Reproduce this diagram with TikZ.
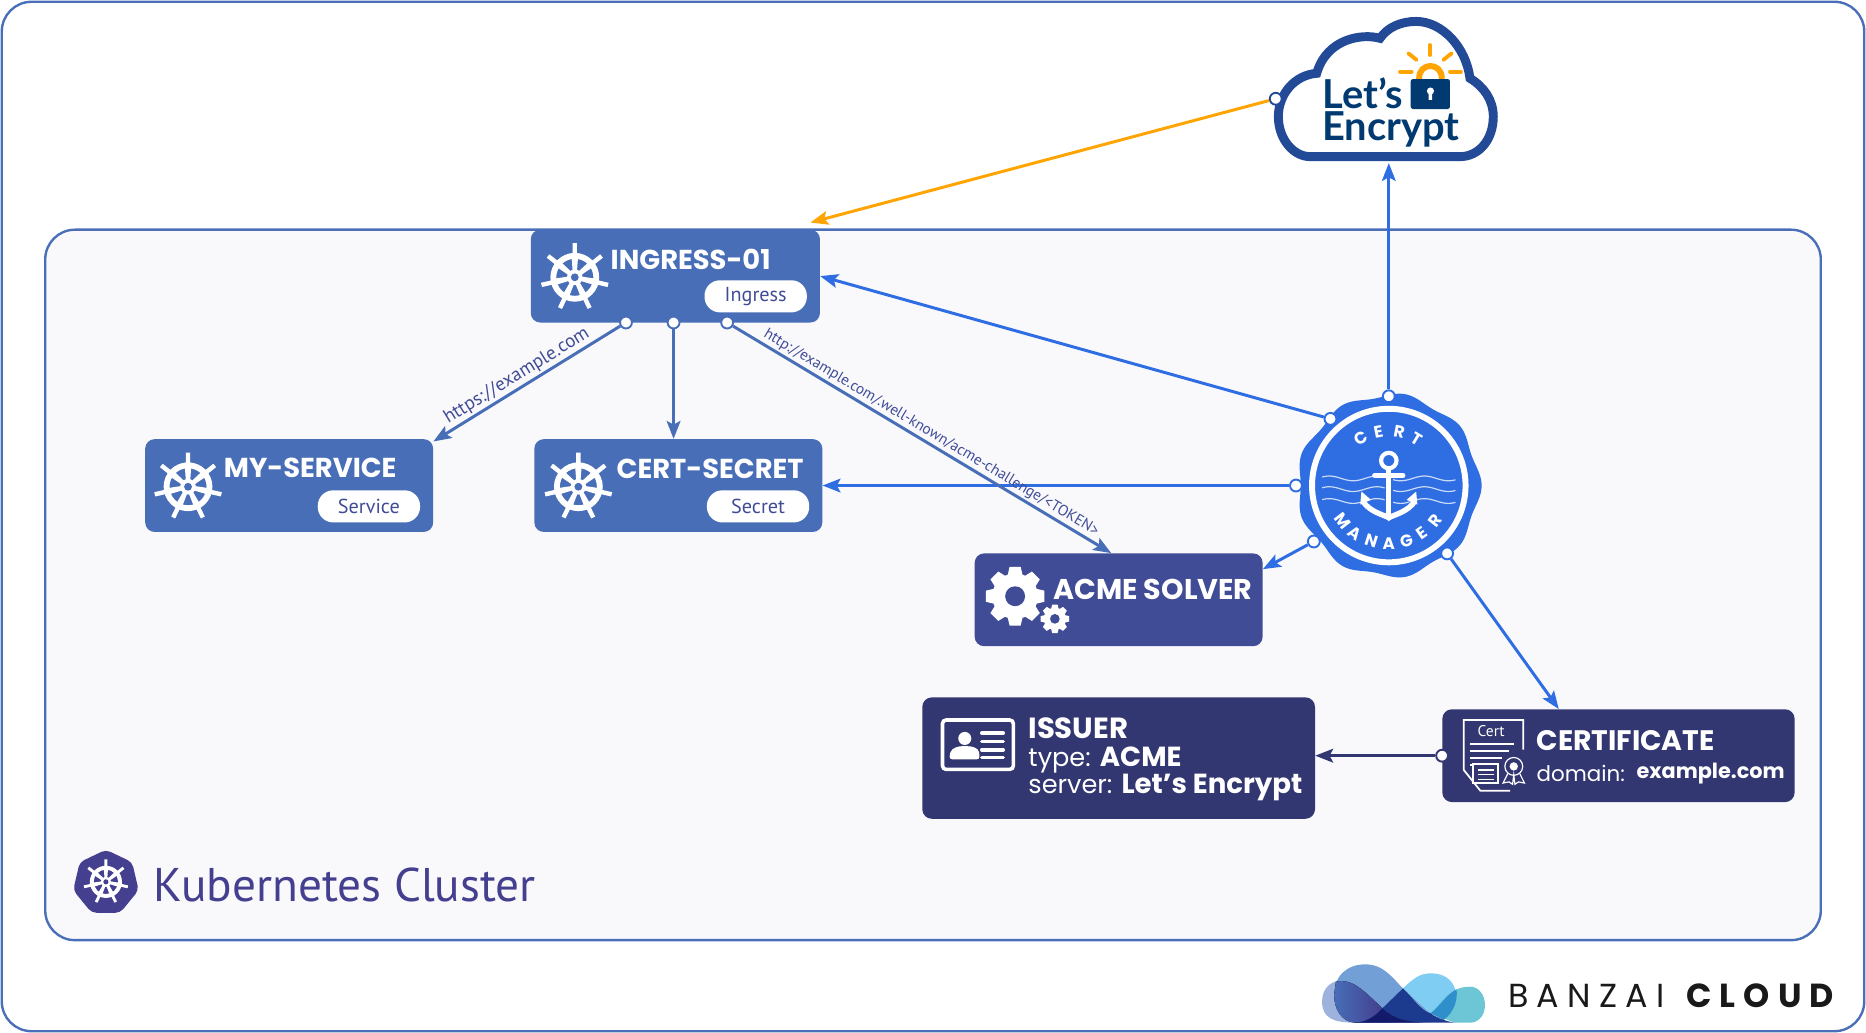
\documentclass[tikz,border=0pt]{standalone}
\usepackage{fontspec}
\setmainfont{PT Sans}
\newfontfamily\headfont{Poppins}
\newfontfamily\logofont{Lato}
\usetikzlibrary{arrows.meta}

\definecolor{frameblue}{HTML}{4A6FB8}
\definecolor{clusterbg}{HTML}{F9F9FC}
\definecolor{k8sblue}{HTML}{486EB7}
\definecolor{acmeblue}{HTML}{414C97}
\definecolor{navyblue}{HTML}{323671}
\definecolor{certblue}{HTML}{2F6DE3}
\definecolor{leorange}{HTML}{FFA400}
\definecolor{leblue}{HTML}{234A97}
\definecolor{ledark}{HTML}{003A70}
\definecolor{k8slogo}{HTML}{443F8F}
\definecolor{wavelight}{HTML}{9DB3DE}
\definecolor{wavemid}{HTML}{729FD6}
\definecolor{wavesky}{HTML}{7FCDF2}
\definecolor{waveteal}{HTML}{6CC6D6}
\definecolor{waveover}{HTML}{2F8FCB}
\definecolor{wavedeep}{HTML}{1C3A8E}
\definecolor{wavedark}{HTML}{141A6A}

\tikzset{
  wheel/.pic={
    \fill[white,even odd rule] (0,0) circle (1) circle (.76);
    \foreach \a in {0,51.43,102.86,154.29,205.71,257.14,308.57}
      \fill[white,rotate=\a,rounded corners=.05] (-.07,0) -- (-.13,-.8) -- (-.09,-1.02) -- (-.09,-1.4) -- (.09,-1.4) -- (.09,-1.02) -- (.13,-.8) -- (.07,0) -- cycle;
    \fill[white] (0,0) circle (.32);
    \fill[#1] (0,0) circle (.16);
  },
  gear/.pic={
    \fill[white] (0,0) circle (.78);
    \foreach \a in {0,45,...,315}
      \fill[white,rotate=\a] (-.26,-.7) -- (-.19,-1) -- (.19,-1) -- (.26,-.7) -- cycle;
    \fill[#1] (0,0) circle (.34);
  }
}

\begin{document}
\begin{tikzpicture}[x=1pt,y=-1pt]

  % Definitions
  \tikzstyle{frame} = [rectangle, rounded corners=25pt, draw=frameblue, line width=2pt]
  \tikzstyle{box} = [rectangle, rounded corners=8pt, minimum width=242pt, minimum height=78pt, inner sep=0pt]
  \tikzstyle{kubebox} = [box, fill=k8sblue]
  \tikzstyle{title} = [font=\headfont\bfseries\fontsize{23}{26}\selectfont, text=white, anchor=west, inner sep=0pt]
  \tikzstyle{info} = [font=\headfont\fontsize{21.5}{24}\selectfont, text=white, anchor=west, inner sep=0pt]
  \tikzstyle{kind} = [rectangle, rounded corners=13pt, fill=white, minimum width=86pt, minimum height=27pt, inner sep=0pt, text=acmeblue, font=\fontsize{17}{20}\selectfont]
  \tikzstyle{port} = [circle, fill=white, draw=certblue, line width=1.6pt, minimum size=10pt, inner sep=0pt]
  \tikzstyle{arrow} = [line width=2.5pt,-{Stealth[length=15pt,width=11.5pt,inset=3pt]}]
  \tikzstyle{url} = [text=acmeblue, inner sep=1.5pt, anchor=south]
  \tikzstyle{sealtext} = [font=\headfont\bfseries\fontsize{14}{16}\selectfont, text=white, inner sep=0pt]

  \useasboundingbox (0,0) rectangle (1568,868);
  \fill[white] (0,0) rectangle (1568,868);

  \node (outer) [frame, fill=white, minimum width=1565pt, minimum height=865pt] at (784,434) {};
  \node (cluster) [frame, fill=clusterbg, minimum width=1492pt, minimum height=597pt] at (784,491.5) {};

  % Boxes
  \node (ingress) [kubebox, minimum width=243pt] at (567.5,232) {};
  \node (my_service) [kubebox] at (243,408) {};
  \node (cert_secret) [kubebox] at (570,408) {};
  \node (acme) [box, fill=acmeblue] at (940,504) {};
  \node (issuer) [box, fill=navyblue, minimum width=330pt, minimum height=102pt] at (940,637) {};
  \node (certificate) [box, fill=navyblue, minimum width=296pt] at (1360,635) {};

  \node (ingress_title) [title] at (513,218) {INGRESS-01};
  \node (service_title) [title] at (188,393) {MY-SERVICE};
  \node (secret_title) [title] at (518,394) {CERT-SECRET};
  \node (acme_title) [title, font=\headfont\bfseries\fontsize{24}{26}\selectfont] at (885,495) {ACME SOLVER};
  \node (issuer_title) [title, font=\headfont\bfseries\fontsize{24.5}{26}\selectfont] at (864,612) {ISSUER};
  \node (issuer_type) [info] at (864,639) {type: {\bfseries\fontsize{23.2}{24}\selectfont ACME}};
  \node (issuer_server) [info] at (864,662) {server: {\bfseries\fontsize{23.2}{24}\selectfont Let’s Encrypt}};
  \node (cert_title) [title, font=\headfont\bfseries\fontsize{23.7}{26}\selectfont] at (1291,622) {CERTIFICATE};
  \node (cert_domain) [info, font=\headfont\fontsize{18}{20}\selectfont] at (1291,650) {domain:};
  \node (cert_name) [info, font=\headfont\bfseries\fontsize{17.5}{20}\selectfont] at (1375,650) {example.com};

  \node (ingress_kind) [kind] at (635,249) {Ingress};
  \node (service_kind) [kind] at (310,425.5) {Service};
  \node (secret_kind) [kind] at (637,425.5) {Secret};

  \pic[scale=20.5] at (483,233) {wheel=k8sblue};
  \pic[scale=20.5] at (158,409) {wheel=k8sblue};
  \pic[scale=20.5] at (486,409) {wheel=k8sblue};
  \pic[scale=24.6] at (853,501) {gear=acmeblue};
  \pic[scale=12] at (886.4,520) {gear=acmeblue};

  % Issuer card
  \draw[white, line width=3pt, rounded corners=3pt] (792,605) rectangle (851.5,646.5);
  \fill[white] (810.7,620.5) circle (5.5);
  \fill[white, rounded corners=2pt] (798,638) -- (798,634) .. controls (800,628) and (806,627) .. (810.7,627) .. controls (816,627) and (822,628) .. (823,634) -- (823,638) -- cycle;
  \foreach \y in {616,623,630,636.5}
    \draw[white, line width=3pt, line cap=round] (825,\y) -- (843,\y);

  % Certificate paper
  \draw[white, line width=1.5pt] (1280,630) -- (1280,605) -- (1230,605) -- (1230,647) -- (1244,664.5) -- (1269,664.5);
  \node (paper_text) [text=white, inner sep=0pt, font=\fontsize{13}{14}\selectfont] at (1253,614) {Cert};
  \foreach \y/\w in {625/1272,631/1268,637/1262,643/1256}
    \draw[white, line width=1.4pt] (1235,\y) -- (\w,\y);
  \draw[white, line width=1.4pt, fill=navyblue] (1238,642) rectangle (1259,658);
  \foreach \y in {647,651,655}
    \draw[white, line width=1pt] (1242,\y) -- (1255,\y);
  \draw[white, line width=1pt] (1272,644) circle (7.5);
  \fill[white] (1272,644) circle (3.5);
  \draw[white, line width=1pt] (1267,650) -- (1263,658) -- (1268,657) -- (1271,659) -- (1272,651) -- (1273,659) -- (1276,657) -- (1281,658) -- (1277,650);

  % Kubernetes logo
  \fill[k8slogo, rounded corners=4pt] (89,714) -- (111,724.5) -- (116.5,748) -- (101,767) -- (77,767) -- (61.5,748) -- (67,724.5) -- cycle;
  \pic[scale=13.5] at (89,741) {wheel=k8slogo};
  \node (cluster_name) [anchor=west, inner sep=0pt, text=k8slogo, font=\fontsize{39.7}{44}\selectfont] at (129,744) {Kubernetes Cluster};

  % Let's Encrypt cloud
  \draw[leblue, fill=white, line width=7.5pt] (1100.8,131.6) -- (1226.8,131.6) .. controls (1243,131.6) and (1254.8,117) .. (1254.8,98) .. controls (1254.8,84) and (1247,73) .. (1235.2,65.8) .. controls (1232,40) and (1212,18) .. (1190,18) .. controls (1177,18) and (1166,23) .. (1159.6,32.2) .. controls (1145,28) and (1115,32) .. (1106.4,61.6) .. controls (1088,63) and (1074.2,79) .. (1074.2,98) .. controls (1074.2,117) and (1087,131.6) .. (1100.8,131.6) -- cycle;
  \draw[leorange, line width=5pt] (1192.5,68) -- (1192.5,65.8) .. controls (1192.5,52) and (1211.5,52) .. (1211.5,65.8) -- (1211.5,68);
  \fill[ledark, rounded corners=2pt] (1185.4,66.4) rectangle (1218.4,91.6);
  \fill[white] (1202,76.5) circle (3) (1200.5,77) -- (1203.5,77) -- (1203.5,84) -- (1200.5,84) -- cycle;
  \foreach \ax/\ay/\bx/\by in {1201.6/37.8/1201.6/46.2,1183.4/44.8/1190.4/50.4,1219.8/44.8/1212.8/50.4,1176.4/60.2/1186.2/60.2,1218.4/60.2/1227.6/60.2}
    \draw[leorange, line width=3.2pt, line cap=round] (\ax,\ay) -- (\bx,\by);
  \node (le_top) [anchor=base west, inner sep=0pt, text=ledark, font=\logofont\bfseries\fontsize{33.5}{36}\selectfont] at (1111,91) {Let’s};
  \node (le_bottom) [anchor=base west, inner sep=0pt, text=ledark, font=\logofont\bfseries\fontsize{33.5}{36}\selectfont] at (1111,118) {Encrypt};

  % Cert manager seal
  \begin{scope}[shift={(1167,408)}]
    \fill[certblue] plot[domain=0:360, samples=180, smooth] (\x:{76+2*cos(9*\x)});
    \draw[white, line width=5pt] (0,0) circle (64.5);
    \foreach \y/\l/\r in {-6/-56/56, 3/-56/56, 13/-56/56}
      \draw[white, opacity=.75, line width=1pt] plot[domain=\l:\r, samples=50, smooth] (\x,{\y+2*sin(\x*9)});
    \draw[certblue, line width=7pt] (0,-14) -- (0,26) (-22,14) .. controls (-16,22) and (-6,24) .. (0,27) .. controls (6,24) and (16,22) .. (22,14);
    \draw[white, line width=3.5pt] (0,-21) circle (6.5);
    \draw[white, line width=4.5pt] (0,-14) -- (0,26);
    \draw[white, line width=4pt, line cap=round] (-12,-8.5) -- (12,-8.5);
    \draw[white, line width=4.5pt] (-22,13) .. controls (-16,22) and (-6,24) .. (0,27) .. controls (6,24) and (16,22) .. (22,13);
    \fill[white] (-24,16) -- (-23,5) -- (-15,12) -- cycle (24,16) -- (23,5) -- (15,12) -- cycle (-4,26) -- (4,26) -- (0,30) -- cycle;
    \foreach \c/\a in {C/-31,E/-11,R/11,T/31}
      \node (seal_top_\c) [sealtext, rotate=-\a] at (270+\a:46) {\c};
    \foreach \c/\n/\a in {M/1/-52.5,A/2/-35,N/3/-17.5,A/4/0,G/5/17.5,E/6/35,R/7/52.5}
      \node (seal_bottom_\n) [sealtext, rotate=\a] at (90-\a:49) {\c};
  \end{scope}

  % Ports
  \node (le_port) [port, draw=leblue] at (1072,83) {};
  \node (ingress_port_a) [port, draw=k8sblue] at (526,271) {};
  \node (ingress_port_b) [port, draw=k8sblue] at (566,271) {};
  \node (ingress_port_c) [port, draw=k8sblue] at (611,271) {};
  \node (cert_port_top) [port] at (1167,333) {};
  \node (cert_port_ingress) [port] at (1118,352) {};
  \node (cert_port_secret) [port] at (1089,408) {};
  \node (cert_port_acme) [port] at (1104,455) {};
  \node (cert_port_cert) [port] at (1216,465) {};
  \node (issuer_port) [port, draw=navyblue] at (certificate.west) {};

  \coordinate (ingress_in) at (681,187);
  \coordinate (cloud_in) at (1167,137);

  % Connectors
  \draw [arrow, leorange] (le_port) -- (ingress_in);
  \draw [arrow, certblue] (cert_port_top) -- (cloud_in);
  \draw [arrow, certblue] (cert_port_ingress) -- (ingress.east);
  \draw [arrow, certblue] (cert_port_secret) -- (cert_secret.east);
  \draw [arrow, certblue] (cert_port_acme) -- (acme.12);
  \draw [arrow, certblue] (cert_port_cert) -- (certificate.142);
  \draw [arrow, navyblue] (issuer_port) -- (issuer.east |- issuer_port);
  \draw [arrow, k8sblue] (ingress_port_a) -- node[url, sloped, pos=.52, font=\fontsize{16}{18}\selectfont] {https://example.com} (my_service.17);
  \draw [arrow, k8sblue] (ingress_port_b) -- (ingress_port_b |- cert_secret.north);
  \draw [arrow, k8sblue] (ingress_port_c) -- node[url, sloped, pos=.51, font=\fontsize{12.8}{15}\selectfont] {http://example.com/.well-known/acme-challenge/<TOKEN>} (acme.99);

  % Banzai Cloud logo
  \begin{scope}[shift={(1100.8,802.5)}, x=.2894pt, y=-.28pt]
    \fill[wavelight] (130,203) .. controls (70,203) and (35,190) .. (35,140) .. controls (35,100) and (60,75) .. (100,75) -- (210,160) -- (230,203) -- cycle;
    \fill[wavemid] (70,120) .. controls (70,60) and (110,28) .. (160,28) .. controls (215,28) and (240,70) .. (270,100) -- (350,175) -- (230,203) -- (130,203) .. controls (90,200) and (70,160) .. (70,120) -- cycle;
    \fill[left color=k8sblue, right color=k8slogo] (75,80) .. controls (120,70) and (150,100) .. (210,160) .. controls (190,185) and (160,203) .. (130,203) .. controls (90,200) and (70,160) .. (70,120) -- cycle;
    \fill[wavesky] (270,100) .. controls (300,70) and (320,55) .. (350,55) .. controls (400,55) and (425,85) .. (425,130) -- (350,175) -- cycle;
    \fill[waveteal] (350,175) .. controls (380,150) and (400,95) .. (465,95) .. controls (490,95) and (508,120) .. (508,150) .. controls (508,180) and (490,203) .. (465,203) -- (420,203) -- cycle;
    \fill[waveover] (350,175) .. controls (380,150) and (395,120) .. (425,103) .. controls (430,130) and (420,170) .. (388,195) -- cycle;
    \fill[wavedeep] (270,100) .. controls (300,130) and (320,165) .. (350,175) .. controls (370,190) and (400,200) .. (420,203) -- (130,203) .. controls (160,203) and (190,185) .. (210,160) .. controls (230,140) and (250,120) .. (270,100) -- cycle;
    \fill[wavedark] (130,203) .. controls (160,203) and (190,185) .. (210,160) .. controls (240,190) and (280,203) .. (350,203) -- cycle;
  \end{scope}
  \node (banzai_word) [anchor=base west, inner sep=0pt, font=\headfont\fontsize{28}{30}\addfontfeature{LetterSpace=25}\selectfont, text=black!90] at (1267,847) {BANZAI};
  \node (cloud_word) [anchor=base west, inner sep=0pt, font=\headfont\bfseries\fontsize{28}{30}\addfontfeature{LetterSpace=24}\selectfont, text=black!90] at (1417,847) {CLOUD};

\end{tikzpicture}
\end{document}
